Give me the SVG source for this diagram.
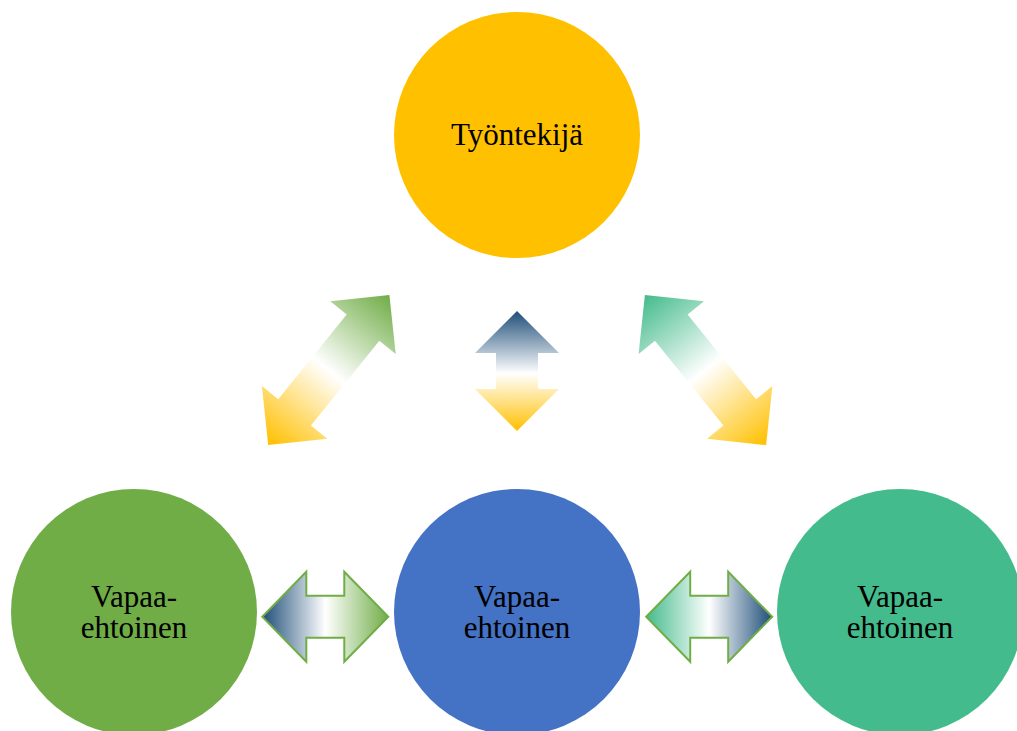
<svg xmlns="http://www.w3.org/2000/svg" width="1017" height="731" viewBox="0 0 1017 731">
<style>
.lbl{font-family:"Liberation Serif","Times New Roman",serif;font-size:31px;fill:#000;text-anchor:middle}
.hz{stroke:#70AD47;stroke-width:2;stroke-linejoin:miter}
</style>
<defs>
<linearGradient id="gV" gradientUnits="userSpaceOnUse" x1="0" y1="-60" x2="0" y2="60">
<stop offset="0" stop-color="#1F4E79"/><stop offset="0.52" stop-color="#ffffff"/><stop offset="1" stop-color="#FFC000"/>
</linearGradient>
<linearGradient id="gDL" gradientUnits="userSpaceOnUse" x1="0" y1="-96" x2="0" y2="96">
<stop offset="0" stop-color="#70AD47"/><stop offset="0.5" stop-color="#ffffff"/><stop offset="1" stop-color="#FFC000"/>
</linearGradient>
<linearGradient id="gDR" gradientUnits="userSpaceOnUse" x1="0" y1="-96" x2="0" y2="96">
<stop offset="0" stop-color="#44BB8C"/><stop offset="0.5" stop-color="#ffffff"/><stop offset="1" stop-color="#FFC000"/>
</linearGradient>
<linearGradient id="gHL" gradientUnits="userSpaceOnUse" x1="-63" y1="0" x2="63" y2="0">
<stop offset="0" stop-color="#1F4E79"/><stop offset="0.5" stop-color="#ffffff"/><stop offset="1" stop-color="#70AD47"/>
</linearGradient>
<linearGradient id="gHR" gradientUnits="userSpaceOnUse" x1="-63" y1="0" x2="63" y2="0">
<stop offset="0" stop-color="#44BB8C"/><stop offset="0.5" stop-color="#ffffff"/><stop offset="1" stop-color="#1F4E79"/>
</linearGradient>
<path id="dArrow" d="M0,-96.5 L42,-54.5 L21,-54.5 L21,54.5 L42,54.5 L0,96.5 L-42,54.5 L-21,54.5 L-21,-54.5 L-42,-54.5 Z"/>
<path id="hArrow" d="M-63,0 L-19,-45 L-19,-21 L19,-21 L19,-45 L63,0 L19,45 L19,21 L-19,21 L-19,45 Z"/>
</defs>
<g id="n-tyontekija">
<circle cx="517" cy="135" r="123" fill="#FFC000"/>
<text class="lbl" x="517" y="145">Työntekijä</text>
</g>
<g id="n-vapaa-left">
<circle cx="134" cy="612" r="123" fill="#70AD47"/>
<text class="lbl" x="134" y="607">Vapaa-</text>
<text class="lbl" x="134" y="638">ehtoinen</text>
</g>
<g id="n-vapaa-mid">
<circle cx="517" cy="612" r="123" fill="#4472C4"/>
<text class="lbl" x="517" y="607">Vapaa-</text>
<text class="lbl" x="517" y="638">ehtoinen</text>
</g>
<g id="n-vapaa-right">
<circle cx="900" cy="612" r="123" fill="#44BB8C"/>
<text class="lbl" x="900" y="607">Vapaa-</text>
<text class="lbl" x="900" y="638">ehtoinen</text>
</g>
<g id="connectors">
<path transform="translate(517,371)" fill="url(#gV)" d="M0,-60 L42,-18 L21,-18 L21,18 L42,18 L0,60 L-42,18 L-21,18 L-21,-18 L-42,-18 Z"/>
<use href="#dArrow" transform="translate(328.8,370) rotate(38.9)" fill="url(#gDL)"/>
<use href="#dArrow" transform="translate(705.5,370) rotate(-38.9)" fill="url(#gDR)"/>
<use href="#hArrow" class="hz" transform="translate(325.3,616.7)" fill="url(#gHL)"/>
<use href="#hArrow" class="hz" transform="translate(709.2,616.7)" fill="url(#gHR)"/>
</g>
</svg>
